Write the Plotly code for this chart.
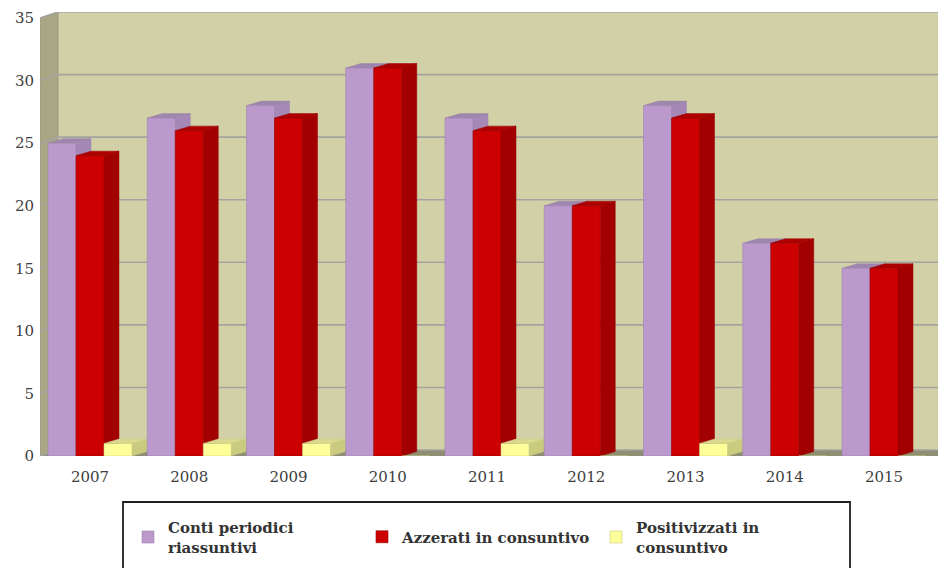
import plotly.graph_objects as go

# ---- data -------------------------------------------------------------
years = ["2007", "2008", "2009", "2010", "2011", "2012", "2013", "2014", "2015"]
conti_periodici = [25, 27, 28, 31, 27, 20, 28, 17, 15]
azzerati = [24, 26, 27, 31, 26, 20, 27, 17, 15]
positivizzati = [1, 1, 1, 0, 1, 0, 1, 0, 0]
series_names = ["Conti periodici<br>riassuntivi",
                "Azzerati in consuntivo",
                "Positivizzati in<br>consuntivo"]
y_ticks = [0, 5, 10, 15, 20, 25, 30, 35]

# ---- page geometry ----------------------------------------------------
W, H = 938, 568
ML, MR, MT, MB = 40, 0, 12, 112
STEP_PX = 99.25      # width of one category in pixels
FIRST_PX = 90        # page x of the first category centre
UNIT_PX = 12.514     # pixels per value unit
PW, PH = W - ML - MR, H - MT - MB

x_range = [(ML - FIRST_PX) / STEP_PX, (W - MR - FIRST_PX) / STEP_PX]
y_range = [0, PH / UNIT_PX]

bar_w = 28 / STEP_PX                    # one bar, data units
bar_dx, bar_dy = 15 / STEP_PX, 4.5 / UNIT_PX   # bar depth offsets
wall_dx, wall_dy = 18 / STEP_PX, 6 / UNIT_PX   # wall depth offsets

front = ["#BB99CC", "#CC0000", "#FFFF99"]
side = ["#A588B6", "#A20000", "#CBCB80"]
top = ["#9F86AF", "#AE0000", "#DADA8E"]
edge = ["#9C84AC", "#990000", "#C9C98C"]

# one legend box per series so each entry can be centred on the same row
legend_ids = ["legend", "legend2", "legend3"]
legend_left_px = [128, 362, 596]
legend_mid_px = 537

xi = list(range(len(years)))
values = [conti_periodici, azzerati, positivizzati]

fig = go.Figure()
for k, (name, vals) in enumerate(zip(series_names, values)):
    fig.add_trace(go.Bar(
        x=xi, y=vals, name=name, legend=legend_ids[k],
        marker=dict(color=front[k], line=dict(color=edge[k], width=0.6)),
        hoverinfo="skip",
    ))


def poly(pts, **kw):
    d = "M " + " L ".join(f"{x:.5f},{y:.5f}" for x, y in pts) + " Z"
    return dict(type="path", path=d, xref="x", yref="y", layer="below", **kw)


shapes = []
xl, xr = x_range[0], x_range[1] + 1
ytop = y_ticks[-1]

# back wall, left wall and floor
shapes.append(poly([(xl + wall_dx, wall_dy), (xr, wall_dy), (xr, y_range[1] + 1),
                    (xl + wall_dx, y_range[1] + 1)],
                   fillcolor="#D2D0A6", line=dict(width=0)))
shapes.append(poly([(xl, 0), (xl + wall_dx, wall_dy), (xl + wall_dx, ytop + wall_dy),
                    (xl, ytop)],
                   fillcolor="#A9A783", line=dict(color="#9A9A8A", width=1)))
shapes.append(poly([(xl, 0), (xr, 0), (xr + wall_dx, wall_dy), (xl + wall_dx, wall_dy)],
                   fillcolor="#8E8E72", line=dict(width=0)))

# grid lines running over the left wall and along the back wall
for v in y_ticks:
    shapes.append(dict(
        type="path", xref="x", yref="y", layer="below",
        path=f"M {xl},{v} L {xl + wall_dx},{v + wall_dy} L {xr},{v + wall_dy}",
        line=dict(color="#A3A3A0", width=1.6), fillcolor="rgba(0,0,0,0)"))

# side and top faces of every bar, left to right
for i in xi:
    for k, vals in enumerate(values):
        v = vals[i]
        if v <= 0:
            continue
        x0 = i - 1.5 * bar_w + k * bar_w
        x1 = x0 + bar_w
        shapes.append(poly([(x1, 0), (x1 + bar_dx, bar_dy), (x1 + bar_dx, v + bar_dy), (x1, v)],
                           fillcolor=side[k], line=dict(color=edge[k], width=0.5)))
        shapes.append(poly([(x0, v), (x1, v), (x1 + bar_dx, v + bar_dy), (x0 + bar_dx, v + bar_dy)],
                           fillcolor=top[k], line=dict(color=edge[k], width=0.5)))

# legend frame
shapes.append(dict(type="rect", xref="paper", yref="paper",
                   x0=(123 - ML) / PW, x1=(850 - ML) / PW,
                   y0=(H - MB - 590) / PH, y1=(H - MB - 502) / PH,
                   line=dict(color="#1E1E1E", width=1.8), fillcolor="rgba(0,0,0,0)"))

tick_font = dict(family="DejaVu Serif", size=15, color="#404040")
legend_font = dict(family="DejaVu Serif", size=15, color="#333333", weight="bold")

layout_legends = {}
for lid, left in zip(legend_ids, legend_left_px):
    layout_legends[lid] = dict(
        orientation="h",
        x=(left - ML) / PW, xanchor="left",
        y=(H - MB - legend_mid_px) / PH, yanchor="middle",
        font=legend_font, bgcolor="rgba(0,0,0,0)", borderwidth=0,
        valign="middle",
    )

fig.update_layout(
    width=W, height=H,
    margin=dict(l=ML, r=MR, t=MT, b=MB, autoexpand=False),
    paper_bgcolor="white", plot_bgcolor="white",
    barmode="group", bargap=1 - 3 * bar_w, bargroupgap=0,
    shapes=shapes,
    showlegend=True,
    xaxis=dict(range=x_range, tickvals=xi, ticktext=years, showgrid=False,
               zeroline=False, showline=False, ticks="", tickfont=tick_font,
               ticklabelstandoff=10, fixedrange=True),
    yaxis=dict(range=y_range, tickvals=y_ticks, showgrid=False, zeroline=False,
               showline=False, ticks="", tickfont=tick_font,
               ticklabelstandoff=5, fixedrange=True),
    **layout_legends,
)

fig.write_html("out.html")
